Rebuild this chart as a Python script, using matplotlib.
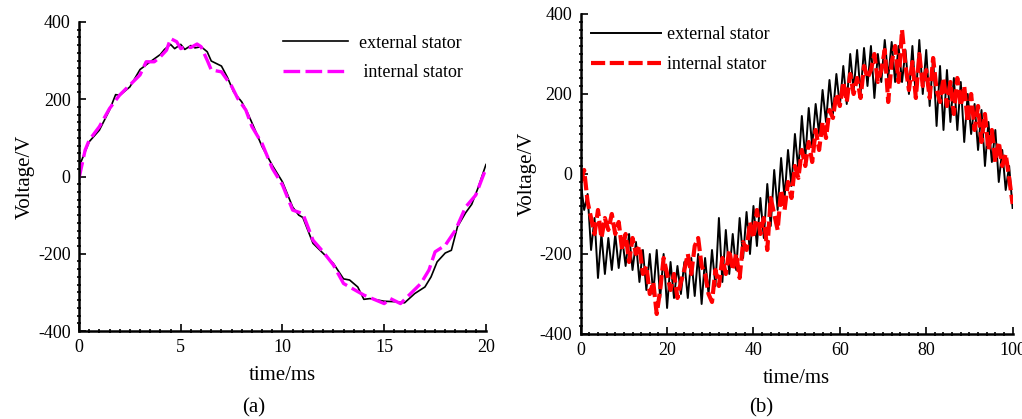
import matplotlib.pyplot as plt
import numpy as np

plt.rcParams['font.family'] = ['Liberation Serif', 'DejaVu Serif']
plt.rcParams['axes.unicode_minus'] = False

# ---- panel (a): one electrical period ----
t_ext_a = [0, 0.5, 1, 1.5, 1.8, 2, 2.5, 3, 3.5, 4, 4.2, 4.5, 4.7, 5, 5.2, 5.5, 5.7, 6, 6.3, 6.5,
           7, 7.3, 7.6, 8, 8.3, 8.6, 9, 9.5, 10, 10.5, 10.8, 11, 11.5, 12, 12.5, 13, 13.3, 13.7,
           14, 14.3, 14.7, 15, 15.5, 16, 16.5, 17, 17.3, 17.6, 18, 18.3, 18.6, 19, 19.3, 19.6, 20]
v_ext_a = [25, 90, 120, 172, 212, 210, 232, 277, 297, 316, 329, 342, 331, 342, 329, 339, 333, 336, 323, 299,
           286, 256, 219, 193, 163, 127, 77, 29, -14, -79, -100, -106, -173, -199, -225, -265, -268, -286,
           -318, -316, -320, -323, -324, -327, -303, -286, -260, -221, -198, -191, -130, -94, -72, -31, 31]

t_int_a = [0, 0.3, 0.5, 1, 1.5, 2, 2.5, 3, 3.3, 3.7, 4, 4.3, 4.5, 4.8, 5, 5.2, 5.5, 5.8, 6, 6.3, 6.5,
           7, 7.5, 7.8, 8.2, 8.5, 9, 9.5, 10, 10.5, 11, 11.5, 12, 12.5, 13, 13.5, 14, 14.5, 15, 15.3,
           15.8, 16.3, 16.8, 17.2, 17.5, 18, 18.5, 19, 19.5, 20]
v_int_a = [-5, 68, 94, 129, 176, 211, 237, 263, 297, 297, 310, 327, 357, 349, 331, 336, 334, 343, 336, 301, 276,
           271, 234, 202, 172, 129, 85, 21, -22, -87, -96, -165, -195, -229, -277, -292, -307, -318, -329, -316,
           -329, -303, -277, -242, -195, -178, -139, -79, -48, 21]

# ---- panel (b): noisy waveform, sampled every 0.8 ms ----
t_b = np.arange(0, 100.01, 0.8)
v_ext_b = [-20, -90, -50, -190, -110, -260, -150, -250, -160, -240,
           -150, -235, -160, -230, -150, -240, -170, -270, -190, -290,
           -200, -300, -190, -310, -200, -335, -220, -310, -230, -300,
           -220, -310, -210, -305, -200, -325, -210, -300, -190, -280,
           -110, -270, -140, -250, -150, -240, -110, -210, -95, -200,
           -80, -180, -60, -160, -25, -130, 10, -90, 40, -60,
           60, -30, 100, 10, 145, 40, 165, 70, 175, 100,
           210, 130, 235, 150, 250, 170, 270, 175, 300, 210,
           310, 200, 315, 220, 320, 190, 300, 230, 335, 240,
           330, 230, 320, 230, 310, 200, 320, 190, 335, 200,
           310, 170, 290, 120, 270, 110, 260, 130, 240, 110,
           230, 80, 200, 100, 175, 60, 160, 20, 130, 30,
           110, -20, 60, -40, 20, -85]
v_int_b = [-20, 10, -70, -110, -150, -90, -160, -110, -140, -100,
           -150, -120, -190, -150, -220, -160, -200, -180, -250, -230,
           -300, -270, -350, -290, -210, -250, -290, -250, -310, -270,
           -240, -200, -250, -180, -160, -230, -250, -300, -320, -240,
           -280, -210, -250, -190, -240, -200, -260, -170, -190, -120,
           -160, -90, -150, -110, -190, -60, -100, -140, -40, -90,
           -20, -60, 20, -10, 60, 20, 80, 30, 110, 60,
           130, 90, 160, 140, 200, 170, 230, 180, 250, 200,
           240, 190, 270, 240, 260, 300, 230, 260, 310, 180,
           280, 320, 230, 360, 270, 210, 280, 190, 300, 220,
           260, 190, 290, 210, 180, 240, 170, 230, 150, 240,
           170, 220, 130, 200, 110, 170, 80, 150, 60, 110,
           30, 80, 20, 50, -10, -75]

fig = plt.figure(figsize=(10.22, 4.19), dpi=100)


def style_axes(ax, xmax, xmajor, xminor):
    ax.set_xlim(0, xmax)
    ax.set_ylim(-400, 400)
    ax.set_xticks(np.arange(0, xmax + 0.01, xmajor))
    ax.set_xticks(np.arange(0, xmax + 0.01, xminor), minor=True)
    ax.set_yticks([-400, -200, 0, 200, 400])
    ax.set_yticks(np.arange(-400, 401, 20), minor=True)
    for side in ('top', 'right'):
        ax.spines[side].set_visible(False)
    for side in ('left', 'bottom'):
        ax.spines[side].set_linewidth(1.8)
    ax.tick_params(which='major', direction='in', length=5, width=1.2, labelsize=13, pad=6)
    ax.tick_params(which='minor', direction='inout', length=3, width=1.2)
    ax.set_xlabel('time/ms', fontsize=15, labelpad=7)
    ax.set_ylabel('Voltage/V', fontsize=15, labelpad=2)


ax1 = fig.add_axes([0.0773, 0.21, 0.3982, 0.7375])
ax1.plot(t_ext_a, v_ext_a, color='black', lw=1.2, label='external stator')
ax1.plot(t_int_a, v_int_a, color='#ff00ff', lw=2.4, dashes=(5, 1.6), label=' internal stator')
style_axes(ax1, 20, 5, 0.5)
ax1.legend(loc='upper right', bbox_to_anchor=(0.983, 1.012), frameon=False, fontsize=13,
           handlelength=3.6, labelspacing=0.7, handletextpad=0.6)
fig.text(0.248, 0.015, '(a)', fontsize=15, ha='center')

ax2 = fig.add_axes([0.5682, 0.2029, 0.4226, 0.7637])
ax2.plot(t_b, v_ext_b, color='black', lw=1.4, label='external stator')
ax2.plot(t_b, v_int_b, color='#ff0000', lw=3.0, dashes=(3.4, 1.1), label='internal stator')
style_axes(ax2, 100, 20, 2)
ax2.legend(loc='upper left', bbox_to_anchor=(-0.014, 1.012), frameon=False, fontsize=13,
           handlelength=3.9, labelspacing=0.7, handletextpad=0.3)
fig.text(0.745, 0.015, '(b)', fontsize=15, ha='center')

fig.savefig('out.png', dpi=100)
